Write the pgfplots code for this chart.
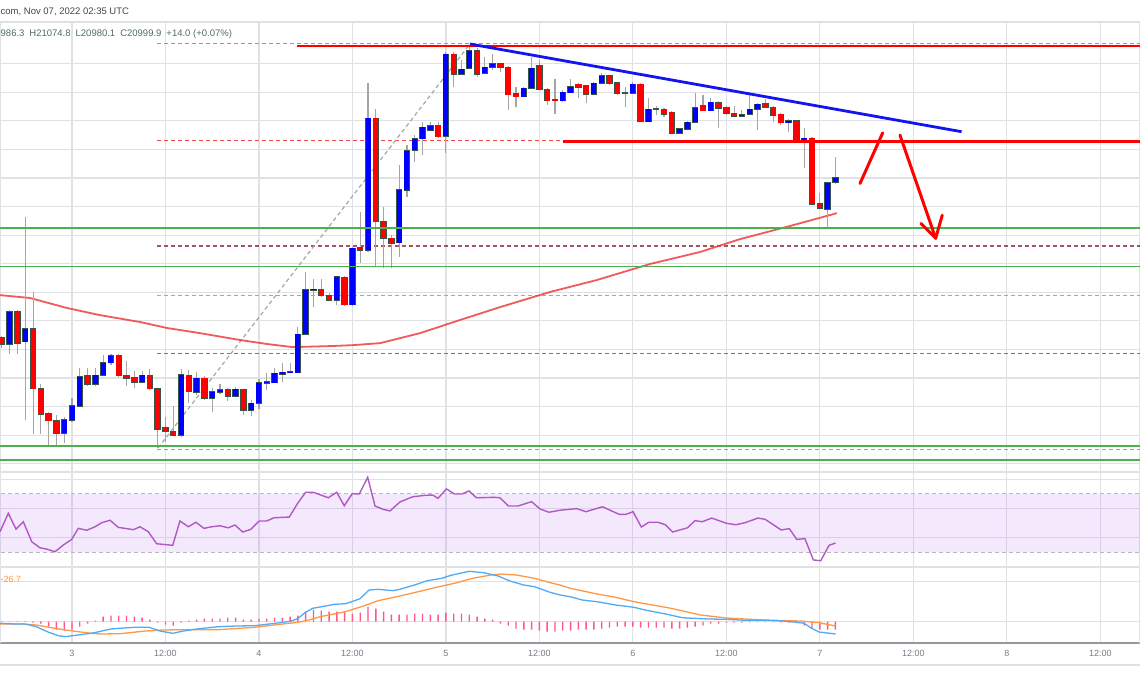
\documentclass[border=0pt]{standalone}
\usepackage{pgfplots}
\usepackage{pgfplotstable}
\pgfplotsset{compat=1.18}
\usepackage{fontspec}
\setmainfont{Liberation Sans}
\definecolor{gridc}{RGB}{224,225,230}
\definecolor{wickc}{RGB}{165,165,165}
\definecolor{edgec}{RGB}{55,85,70}
\definecolor{upc}{RGB}{0,0,255}
\definecolor{dnc}{RGB}{255,0,0}
\definecolor{greenl}{RGB}{76,175,80}
\definecolor{maroonl}{RGB}{160,85,95}
\definecolor{tealL}{RGB}{90,200,190}
\definecolor{lblue}{RGB}{110,170,230}
\definecolor{reddash}{RGB}{240,70,70}
\definecolor{trendblue}{RGB}{20,20,240}
\definecolor{mac}{RGB}{240,60,60}
\definecolor{rsic}{RGB}{175,90,195}
\definecolor{bandc}{RGB}{180,100,240}
\definecolor{macdc}{RGB}{80,170,245}
\definecolor{sigc}{RGB}{255,152,70}
\definecolor{histc}{RGB}{255,85,135}
\definecolor{labelc}{RGB}{120,123,134}
\definecolor{titlec}{RGB}{70,70,70}
\definecolor{ohlcc}{RGB}{80,110,90}
\definecolor{axisc}{RGB}{150,150,155}

% hourly candles, x = hours since Nov 3 00:00
\pgfplotstableread{
x o hi lo c
-9 20440 20447 20405 20419
-7 20532 20538 20384 20421
-5 20472 20601 20104 20262
-4 20262 20279 20104 20174
-3 20176 20182 20066 20151
-2 20151 20171 20066 20106
2 20308 20335 20272 20279
6 20380 20384 20303 20310
7 20310 20360 20272 20299
8 20302 20325 20264 20286
10 20310 20330 20258 20262
11 20262 20264 20054 20120
12 20126 20165 20077 20112
13 20113 20202 20097 20100
15 20310 20328 20214 20252
17 20299 20307 20223 20229
20 20258 20264 20221 20237
22 20261 20263 20171 20188
32 20610 20646 20584 20590
33 20590 20598 20570 20573
35 20653 20657 20552 20556
37 20755 20881 20703 20748
39 21209 21241 20690 20847
40 20847 20900 20684 20789
41 20789 20800 20684 20772
47 21183 21197 21140 21145
49 21433 21442 21320 21363
52 21446 21455 21355 21364
55 21399 21403 21371 21388
56 21388 21392 21238 21291
57 21294 21320 21250 21285
60 21392 21413 21308 21311
61 21311 21315 21256 21271
62 21273 21346 21224 21270
65 21328 21334 21279 21318
66 21322 21326 21262 21293
69 21357 21361 21326 21332
70 21334 21336 21290 21297
71 21299 21320 21250 21297
73 21328 21333 21196 21197
75 21242 21252 21221 21239
76 21241 21245 21215 21224
77 21230 21235 21154 21157
81 21253 21290 21233 21236
83 21264 21270 21174 21245
84 21247 21252 21222 21226
85 21226 21253 21213 21217
89 21261 21275 21245 21247
90 21247 21252 21197 21220
91 21223 21227 21185 21193
93 21200 21203 21128 21129
95 21139 21143 20905 20908
96 20909 20946 20891 20894
}\dn

\pgfplotstableread{
x o hi lo c
-8 20419 20538 20384 20532
-6 20427 20864 20153 20472
-1 20106 20165 20071 20153
0 20153 20230 20147 20202
1 20202 20334 20198 20305
3 20279 20335 20272 20310
4 20310 20380 20307 20354
5 20354 20384 20345 20377
9 20286 20325 20282 20310
14 20100 20330 20095 20312
16 20251 20321 20241 20299
18 20229 20264 20182 20252
19 20250 20278 20244 20258
21 20237 20270 20234 20261
23 20188 20223 20167 20211
24 20211 20296 20191 20284
25 20282 20319 20258 20287
26 20284 20334 20282 20317
27 20313 20352 20287 20320
28 20319 20352 20317 20321
29 20319 20478 20317 20453
30 20453 20672 20450 20608
31 20608 20646 20550 20610
34 20573 20657 20555 20655
36 20556 20760 20552 20754
38 20748 21332 20741 21209
42 20773 21046 20725 20958
43 20958 21116 20935 21095
44 21098 21150 21057 21137
45 21137 21196 21080 21178
46 21168 21197 21164 21183
48 21147 21441 21087 21433
50 21363 21413 21360 21380
51 21384 21466 21381 21446
53 21366 21425 21364 21388
54 21388 21434 21378 21399
58 21285 21320 21282 21314
59 21314 21425 21312 21384
63 21271 21308 21266 21300
64 21299 21347 21297 21320
67 21293 21337 21290 21332
68 21332 21369 21329 21357
72 21297 21337 21294 21328
74 21197 21279 21196 21241
78 21157 21175 21154 21172
79 21171 21200 21168 21195
80 21195 21297 21192 21246
82 21236 21279 21234 21265
86 21217 21238 21213 21222
87 21223 21290 21221 21241
88 21241 21262 21168 21258
92 21193 21206 21162 21200
94 21129 21174 21034 21139
97 20891 20986 20830 20984
98 20986.3 21074.8 20980.1 20999.9
}\up

\pgfplotstableread{
x v
-9 3.1
-8 -3.1
-7 3.1
-6 3.1
-5 -6.2
-4 -12.4
-3 -31
-2 -49.6
-1 -55.8
0 -49.6
1 -31
2 -12.4
3 6.2
4 31
5 37.2
6 37.2
7 37.2
8 31
9 24.8
10 12.4
11 -6.2
12 -18.6
13 -24.8
14 -6.2
15 6.2
16 12.4
17 18.6
18 18.6
19 18.6
20 24.8
21 24.8
22 12.4
23 12.4
24 18.6
25 18.6
26 24.8
27 24.8
28 31
29 37.2
30 62
31 74.4
32 68.2
33 62
34 62
35 62
36 49.6
37 55.8
38 93
39 80.6
40 62
41 43.4
42 43.4
43 43.4
44 49.6
45 49.6
46 43.4
47 43.4
48 55.8
49 49.6
50 49.6
51 43.4
52 31
53 18.6
54 12.4
55 -12.4
56 -24.8
57 -43.4
58 -49.6
59 -49.6
60 -55.8
61 -62
62 -62
63 -55.8
64 -55.8
65 -49.6
66 -49.6
67 -49.6
68 -43.4
69 -37.2
70 -31
71 -31
72 -31
73 -37.2
74 -37.2
75 -37.2
76 -37.2
77 -43.4
78 -43.4
79 -37.2
80 -31
81 -24.8
82 -12.4
83 -12.4
84 -6.2
85 -6.2
86 -6.2
87 -4.3
88 -3.1
89 -3.1
90 -3.1
91 -4.3
92 -6.2
93 -9.3
94 -24.8
95 -43.4
96 -49.6
97 -49.6
98 -49.6
}\hist

\pgfplotsset{
  panel/.style={at={(0pt,#1)}, anchor=south west, scale only axis, width=1140pt,
    xmin=-9.243, xmax=137.1, xtick={0,12,...,132}, xticklabels={}, yticklabels={},
    scaled y ticks=false, scaled x ticks=false,
    major tick length=0pt, grid=major,
    major grid style={gridc, line width=1.2pt},
    axis line style={gridc, line width=1.2pt}, clip=true},
  hline/.style={line width=1.2pt, dash pattern=on 4pt off 3pt, forget plot},
  wick/.style={draw=none, mark=none, forget plot, error bars/.cd, y dir=plus, y explicit,
    error mark=none, error bar style={line width=1.1pt, draw=wickc}},
  bodyedge/.style={draw=none, mark=none, forget plot, error bars/.cd, y dir=plus, y explicit,
    error mark=none, error bar style={line width=6.4pt, draw=edgec}},
  bodyfill/.style={draw=none, mark=none, forget plot, error bars/.cd, y dir=plus, y explicit,
    error mark=none, error bar style={line width=5pt, draw=#1}},
}

\begin{document}
\begin{tikzpicture}[x=1pt,y=1pt]
\useasboundingbox (0pt,0pt) rectangle (1140pt,694pt);

% ---------------- price panel ----------------
\begin{axis}[panel=222pt, height=450pt, ymin=19971, ymax=21546,
  ytick={20000,20100,...,21400}]
% fib levels
\addplot[hline, color=gray!80] coordinates {(10.91,21470) (140,21470)};
\addplot[hline, color=reddash] coordinates {(10.91,21131) (140,21131)};
\addplot[hline, color=maroonl] coordinates {(10.91,20762) (140,20762)};
\addplot[hline, color=tealL] coordinates {(10.91,20590) (140,20590)};
\addplot[hline, color=reddash] coordinates {(10.91,20387) (140,20387)};
\addplot[hline, color=lblue] coordinates {(10.91,20050) (140,20050)};
\addplot[hline, color=gray!70] coordinates {(11.04,20055) (51.09,21469)};
% moving average
\addplot[mac, line width=1.8pt, opacity=0.85, forget plot] coordinates {
(-9.24,20590) (-5.39,20580) (-0.64,20545) (3.59,20520) (8.73,20496) (12.2,20475)
(16.43,20457) (21.57,20433) (25.03,20419) (28.37,20408) (33.5,20412) (36.07,20415)
(39.54,20422) (44.67,20457) (49.81,20503) (54.94,20548) (61.36,20601) (67.39,20643)
(74.2,20699) (80.62,20741) (85.75,20786) (92.17,20832) (98.2,20877)};
% candles: wicks
\addplot[wick] table[x=x, y=lo, y error expr=\thisrow{hi}-\thisrow{lo}] {\dn};
\addplot[wick] table[x=x, y=lo, y error expr=\thisrow{hi}-\thisrow{lo}] {\up};
% candles: bodies
\addplot[bodyedge] table[x=x, y expr=\thisrow{c}-2.2, y error expr=\thisrow{o}-\thisrow{c}+4.4] {\dn};
\addplot[bodyedge] table[x=x, y expr=\thisrow{o}-2.2, y error expr=\thisrow{c}-\thisrow{o}+4.4] {\up};
\addplot[bodyfill=dnc] table[x=x, y=c, y error expr=\thisrow{o}-\thisrow{c}] {\dn};
\addplot[bodyfill=upc] table[x=x, y=o, y error expr=\thisrow{c}-\thisrow{o}] {\up};
% horizontal drawings
\addplot[greenl, line width=1.7pt, forget plot] coordinates {(-10,20826) (140,20826)};
\addplot[greenl, line width=1.7pt, forget plot] coordinates {(-10,20690) (140,20690)};
\addplot[greenl, line width=1.7pt, forget plot] coordinates {(-10,20063) (140,20063)};
\addplot[greenl, line width=1.7pt, forget plot] coordinates {(-10,20013) (140,20013)};
\addplot[red, line width=2.4pt, forget plot] coordinates {(28.88,21463) (140,21463)};
\addplot[red, line width=2.4pt, forget plot] coordinates {(63.03,21128) (140,21128)};
% trend line
\addplot[trendblue, line width=2.8pt, forget plot] coordinates {(51.09,21469) (114.2,21162)};
% arrows
\addplot[red, line width=3pt, line cap=round, forget plot] coordinates {(101.16,20981) (104.07,21158)};
\addplot[red, line width=3pt, line cap=round, forget plot] coordinates {(106.29,21150) (110.87,20789)};
\addplot[red, line width=3pt, line cap=round, line join=round, forget plot] coordinates {(108.99,20841) (110.87,20789) (111.72,20870)};
\end{axis}

% ---------------- RSI panel ----------------
\begin{axis}[panel=127pt, height=95pt, ymin=19.66, ymax=85.17, ytick={20,40,60,80}]
\addplot[draw=none, fill=bandc, fill opacity=0.15, forget plot] coordinates {(-10,30) (140,30) (140,70) (-10,70)} --cycle;
\addplot[hline, color=gray!55, line width=1pt] coordinates {(-10,70) (140,70)};
\addplot[hline, color=gray!55, line width=1pt] coordinates {(-10,30) (140,30)};
\addplot[rsic, line width=1.4pt, forget plot] coordinates {
(-9.24,44.0) (-8.18,56.7) (-7.19,45.8) (-6.25,50.9) (-5.17,37.1) (-4.11,32.9) (-3.25,32.0)
(-2.18,30.2) (-1.12,34.8) (-0.04,38.7) (0.81,46.3) (1.89,45.0) (2.95,47.4) (3.81,50.2)
(4.88,51.9) (5.94,47.0) (7.87,45.4) (8.73,47.4) (9.79,44.0) (10.87,35.7) (12.93,34.6)
(13.86,51.4) (14.93,47.4) (15.92,50.5) (16.94,46.3) (17.93,47.4) (19.0,48.1) (20.06,46.7)
(20.92,48.6) (21.91,43.8) (22.94,45.6) (24.04,51.4) (24.99,51.4) (25.93,53.6) (27.89,54.1)
(28.97,63.6) (30.0,71.2) (30.98,71.2) (32.9,67.4) (33.98,71.2) (34.95,61.9) (35.98,70.2)
(36.88,70.0) (37.96,81.5) (38.9,61.7) (39.96,59.4) (40.82,58.3) (42.1,64.5) (43.74,68.1)
(45.38,69.1) (46.3,69.3) (46.98,67.0) (48.07,73.5) (49.1,70.0) (50.04,70.0) (50.96,72.1)
(51.91,67.4) (54.24,67.7) (54.94,67.4) (56.02,61.7) (57.25,61.7) (59.0,64.7) (60.08,59.7)
(61.23,57.4) (62.64,58.8) (64.78,59.9) (65.98,57.8) (68.1,61.2) (70.22,56.0) (71.12,56.0)
(72.02,57.8) (73.09,47.2) (74.04,50.5) (75.22,50.5) (76.17,48.8) (77.12,43.8) (79.02,46.7)
(79.97,51.6) (80.92,50.9) (82.12,53.4) (84.02,49.8) (85.2,48.8) (86.39,50.2) (88.06,53.4)
(89.0,52.5) (91.04,45.2) (92.09,46.1) (93.04,38.7) (94.09,39.2) (95.17,24.5) (96.12,24.0)
(97.18,34.6) (98.02,36.2)};
\end{axis}

% ---------------- MACD panel ----------------
\begin{axis}[panel=51pt, height=76pt, ymin=-132.1, ymax=339.1, ytick={0,250},
  separate axis lines, axis x line*=bottom,
  x axis line style={draw=axisc, line width=1.6pt, -},
  xticklabels={3,12:00,4,12:00,5,12:00,6,12:00,7,12:00,8,12:00},
  xticklabel style={font=\fontsize{9}{10}\selectfont, text=labelc, anchor=north, yshift=-4pt}]
\addplot[ybar, bar width=1.4pt, bar shift=0pt, fill=histc, draw=none, forget plot] table[x=x, y=v] {\hist};
\addplot[sigc, line width=1.3pt, forget plot] coordinates {
(-9.24,-14.3) (-6.44,-14.3) (-4.57,-20.5) (-2.24,-40.9) (0.09,-57.7) (2.43,-72) (3.83,-76.3)
(6.16,-74.4) (9.43,-57.7) (11.76,-51.5) (14.1,-49.6) (18.77,-49.6) (23.43,-34.9) (26.24,-18.6)
(29.04,-3.7) (30.44,10.5) (31.84,31) (35.1,62) (37.43,97.3) (39.3,130.2) (42.1,159.3)
(44.44,186) (46.77,213.3) (49.1,238) (51.44,269) (53.77,289.5) (55.17,295.7) (57.04,289.5)
(59.37,269) (61.71,238) (62.64,227.5) (63.95,207) (65.02,196.5) (67.39,171.7) (69.77,151.3)
(72.14,124) (76.89,83.1) (80.69,41.5) (84.02,22.9) (88.77,10.5) (93.52,4.3) (95.89,-6.2)
(98.02,-26.7)};
\addplot[macdc, line width=1.3pt, forget plot] coordinates {
(-9.24,-10) (-7.38,-14.3) (-5.97,-14.3) (-4.57,-31) (-3.17,-62) (-1.77,-86.8) (-0.84,-93)
(0.09,-86.8) (1.49,-78.1) (2.89,-68.2) (3.83,-57.7) (4.99,-45.3) (6.63,-39) (8.03,-34.9)
(9.9,-34.9) (11.3,-57.7) (12.93,-72) (14.1,-59.5) (15.97,-45.3) (18.77,-31) (21.1,-26.7)
(23.43,-24.8) (25.3,-14.3) (26.7,-6.2) (28.1,2.5) (29.04,21.1) (29.97,58.3) (30.9,83.1)
(32.77,99.2) (33.7,107.9) (35.1,111.6) (36.27,130.2) (36.97,142.6) (38.14,196.5) (39.3,200.9)
(41.17,192.2) (42.1,200.9) (43.97,227.5) (45.6,254.2) (47.47,269) (48.64,287.7) (50.98,312.5)
(52.84,303.8) (54.71,283.3) (56.11,254.2) (57.97,227.5) (59.37,217) (61.25,184.1) (62.64,165.5)
(63.95,155) (65.49,134.5) (67.39,124) (69.77,103.5) (72.14,89.3) (73.57,72.5) (76.42,45.9)
(78.32,24.8) (81.64,16.7) (84.02,14.9) (86.39,8.7) (89.24,8.7) (91.14,4.3) (93.04,-3.7)
(93.99,-9.9) (94.94,-40.9) (95.89,-63.9) (98.02,-76.3)};
\end{axis}

\draw[gridc, line width=1.2pt] (0pt,29pt) -- (1140pt,29pt);

% header texts
\node[anchor=west, inner sep=0pt, text=titlec, font=\fontsize{9.5}{11}\selectfont] at (0.5pt,682pt) {com, Nov 07, 2022 02:35 UTC};
\node[anchor=west, inner sep=0pt, text=ohlcc, font=\fontsize{9.5}{11}\selectfont] at (0.5pt,660pt)
  {986.3\hspace{5pt}H21074.8\hspace{5pt}L20980.1\hspace{5pt}C20999.9\hspace{5pt}+14.0 (+0.07\%)};
\node[anchor=west, inner sep=0pt, text=sigc, font=\fontsize{9}{10}\selectfont] at (0.5pt,115pt) {-26.7};
\end{tikzpicture}
\end{document}
